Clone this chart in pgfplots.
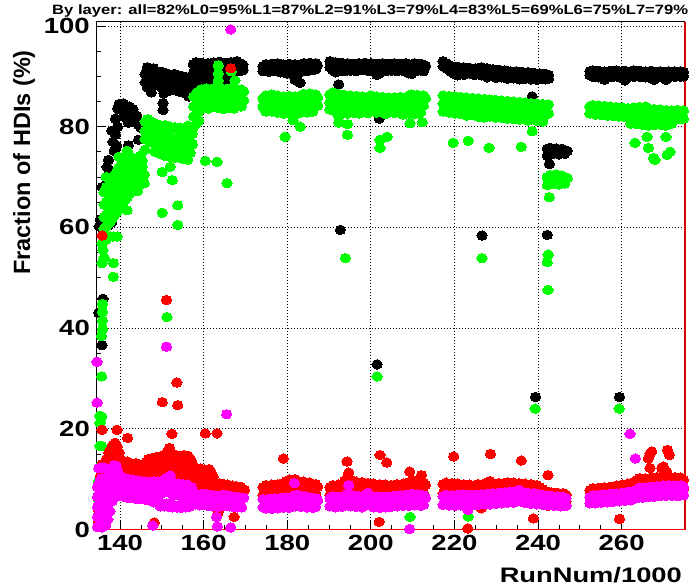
\documentclass[border=0pt]{standalone}
\usepackage{fontspec}
\setmainfont{Liberation Sans}
\usepackage{graphicx}
\usepackage{pgfplots}
\usepackage{pgfplotstable}
\pgfplotsset{compat=1.18}
\definecolor{rgreen}{RGB}{0,255,0}
\definecolor{rmag}{RGB}{255,0,255}
\definecolor{rred}{RGB}{255,0,0}

% ---------------- black series ----------------
\pgfplotstableread{
x a b c
134.9 43.0 nan nan
135.9 45.8 nan nan
135.7 36.6 nan nan
135.0 60.2 nan nan
135.3 61.6 nan nan
135.7 68.0 nan nan
136.0 60.9 nan nan
136.5 61.9 67.8 nan
136.9 61.0 69.6 72.0
137.2 73.4 60.4 nan
137.5 71.2 nan nan
138.0 79.2 61.0 nan
138.3 77.0 nan nan
138.6 75.2 nan nan
138.9 78.4 81.6 nan
139.2 76.2 nan nan
139.4 83.6 80.0 nan
139.8 84.5 nan nan
140.3 83.6 nan nan
140.8 84.6 82.0 nan
141.4 83.0 nan nan
142.0 80.8 76.3 nan
142.3 84.0 nan nan
142.7 82.6 nan nan
143.1 83.5 nan nan
143.6 81.0 nan nan
144.0 82.2 nan nan
144.4 80.4 77.4 nan
145.0 79.8 nan nan
146.0 90.4 88.8 nan
146.5 91.8 89.5 87.8
147.0 91.5 90.0 88.5
147.5 91.0 89.2 86.8
148.0 91.6 90.2 88.6
148.5 90.8 89.0 nan
149.0 91.0 89.6 88.2
149.5 90.4 88.7 nan
150.0 90.9 89.3 87.8
150.3 84.7 83.3 nan
150.5 90.2 88.5 86.6
151.0 90.6 89.0 87.5
151.5 90.0 88.3 nan
152.0 90.3 88.8 87.2
152.5 89.8 88.0 nan
153.0 90.5 89.0 87.6
153.5 89.6 88.2 nan
154.0 90.2 88.6 87.0
154.5 89.4 87.8 nan
155.0 90.0 88.4 86.8
155.5 89.2 87.5 nan
156.0 89.8 88.2 86.5
156.5 89.0 87.2 86.0
157.0 89.5 88.0 nan
157.5 92.4 90.6 89.0
158.2 92.8 90.9 89.4
158.9 92.3 90.4 88.8
159.6 92.7 90.8 89.6
160.3 92.2 90.5 89.1
161.0 92.6 91.0 nan
161.7 92.4 90.6 89.3
162.4 92.8 91.2 nan
163.1 92.5 90.8 nan
163.8 92.9 91.3 90.0
164.5 92.3 90.9 nan
165.2 92.7 91.0 89.2
165.9 92.4 90.6 88.9
166.6 92.8 91.2 nan
167.3 92.5 90.8 nan
168.0 93.0 91.4 nan
168.7 92.6 91.0 nan
169.4 92.3 91.2 nan
174.2 92.0 91.0 nan
174.9 92.4 91.2 nan
175.6 92.1 90.9 nan
176.3 92.5 91.4 nan
177.0 92.2 91.0 nan
177.7 92.6 91.3 nan
178.4 92.0 90.8 nan
179.1 92.4 91.1 nan
179.8 92.2 90.6 nan
180.5 92.5 91.0 nan
181.2 92.1 90.4 nan
181.9 92.4 89.3 nan
182.6 92.0 90.5 nan
183.1 88.7 nan nan
183.3 92.3 91.0 nan
184.0 92.6 91.3 nan
184.7 92.2 91.0 nan
185.4 92.7 91.5 nan
186.1 92.4 91.2 nan
186.8 92.6 91.4 nan
187.2 92.2 nan nan
190.2 93.0 91.8 nan
190.9 92.6 91.2 nan
191.6 92.8 90.8 nan
192.3 92.4 91.0 88.4
193.0 92.7 91.3 nan
193.7 92.3 91.0 nan
194.4 92.6 91.4 nan
195.1 92.2 91.1 nan
195.8 92.5 91.3 nan
196.5 92.1 91.0 nan
197.2 92.6 91.4 nan
197.9 92.3 91.2 nan
198.6 92.7 91.5 nan
199.3 92.4 91.1 nan
200.0 92.6 91.3 nan
200.7 92.2 90.9 nan
201.4 92.5 91.0 90.3
202.1 92.3 90.6 nan
202.8 92.6 91.2 nan
203.5 92.2 91.0 nan
204.2 92.5 91.3 nan
204.9 92.3 91.1 nan
205.6 92.6 91.4 nan
206.3 92.2 91.0 nan
207.0 92.5 91.2 nan
207.7 92.3 91.1 nan
208.4 92.6 91.4 nan
209.1 92.2 90.6 nan
209.8 92.4 90.5 nan
210.5 92.6 91.3 nan
211.2 92.3 91.1 nan
211.9 92.5 91.2 nan
212.6 92.3 91.0 nan
213.1 92.1 nan nan
192.7 59.5 nan nan
201.5 32.8 nan nan
202.0 81.6 nan nan
217.3 93.0 92.0 nan
218.0 92.6 91.6 nan
218.7 92.3 91.2 nan
219.4 92.0 90.8 nan
220.1 91.8 90.4 nan
220.8 91.9 90.2 nan
221.5 91.6 90.5 nan
222.2 91.8 90.3 nan
222.9 91.5 90.6 nan
223.6 91.7 90.8 nan
224.3 91.4 90.4 nan
225.0 91.6 90.3 nan
225.7 91.5 90.6 nan
226.4 91.8 90.2 nan
227.1 91.5 90.5 nan
227.8 91.6 89.8 nan
228.5 91.3 90.1 nan
229.2 91.4 90.4 nan
229.9 91.2 89.7 nan
230.6 91.3 90.1 nan
231.3 91.0 89.8 nan
232.0 91.2 90.0 nan
232.7 90.9 89.5 nan
233.4 91.0 89.8 nan
234.1 90.8 89.6 nan
234.8 91.0 89.9 nan
235.5 90.7 89.4 nan
236.2 90.9 89.8 nan
236.9 90.6 89.5 nan
237.6 90.8 89.7 nan
238.3 90.5 89.4 nan
239.0 90.7 89.6 nan
239.7 90.4 89.3 nan
240.4 90.6 89.5 nan
241.1 90.4 89.6 nan
241.8 90.5 89.4 nan
242.5 90.3 89.5 nan
226.6 58.4 nan nan
238.6 86.0 nan nan
239.4 26.3 nan nan
242.2 58.5 75.6 74.2
242.7 72.6 nan nan
242.9 75.8 74.4 nan
243.6 75.5 74.6 nan
244.3 75.7 nan nan
245.0 75.4 74.5 nan
245.7 75.6 nan nan
246.4 75.3 74.6 nan
247.0 75.2 nan nan
252.4 91.0 90.2 nan
253.1 91.2 89.9 nan
253.8 90.8 90.1 nan
254.5 91.1 89.8 nan
255.2 90.9 90.0 nan
255.9 91.0 89.3 nan
256.6 90.8 89.7 nan
257.3 91.1 90.0 nan
258.0 90.9 89.9 nan
258.7 91.2 90.1 nan
259.4 90.8 89.8 nan
260.1 91.0 89.9 nan
260.8 91.1 89.2 nan
261.5 90.8 89.8 nan
262.2 91.0 90.0 nan
262.9 91.2 89.9 nan
263.6 90.9 90.1 nan
264.3 91.1 89.9 nan
265.0 90.8 90.0 nan
265.7 91.0 89.8 nan
266.4 90.9 90.0 nan
267.1 91.1 89.6 nan
267.8 90.8 89.3 nan
268.5 90.9 89.7 nan
269.2 91.0 90.0 nan
269.9 90.8 89.8 nan
270.6 90.9 89.3 nan
271.3 91.0 89.9 nan
272.0 90.8 90.0 nan
272.7 91.0 89.9 nan
273.4 90.9 90.1 nan
274.1 91.0 89.9 nan
274.8 90.8 90.0 nan
268.0 80.4 nan nan
259.5 26.3 nan nan
}\tblack

% ---------------- green series ----------------
\pgfplotstableread{
x a b c d e
134.8 0.5 3.0 6.0 9.5 nan
135.2 12.5 16.6 21.2 22.6 nan
135.6 30.4 22.4 16.6 38.4 nan
135.8 39.8 41.5 43.2 44.8 7.0
135.7 56.8 52.9 nan nan nan
135.9 55.5 nan nan nan nan
136.2 54.0 59.8 62.0 64.5 67.0
136.6 57.5 nan nan nan nan
136.7 60.2 62.5 65.0 68.0 70.0
137.2 60.8 63.0 65.5 67.5 nan
137.6 58.2 nan nan nan nan
137.7 61.2 63.8 66.2 68.5 nan
138.2 61.8 64.2 66.8 69.4 nan
138.4 58.2 52.9 50.2 nan nan
138.7 62.4 65.0 67.6 70.2 nan
139.2 63.0 65.6 68.2 71.0 nan
139.3 58.2 nan nan nan nan
139.7 63.6 66.2 68.8 71.8 74.0
140.2 64.2 66.8 69.4 72.4 nan
140.7 64.8 67.4 70.0 73.0 nan
141.2 65.4 68.0 70.6 73.6 nan
141.7 66.0 68.6 71.2 75.2 63.4
142.2 66.6 69.2 72.0 nan nan
142.7 67.0 70.0 72.6 74.0 nan
143.2 67.6 70.4 73.0 nan nan
143.7 68.2 71.0 nan nan nan
144.2 67.2 70.2 73.5 nan nan
144.8 68.5 71.6 74.2 nan nan
145.3 69.4 72.0 73.2 nan nan
145.8 68.8 70.5 nan nan nan
146.0 81.0 79.2 77.5 75.4 nan
146.6 81.5 79.6 77.8 nan nan
147.2 81.2 79.0 77.0 nan nan
147.8 80.8 78.8 76.8 nan nan
148.4 80.6 78.6 76.5 75.0 nan
149.0 80.4 78.3 76.2 nan nan
149.6 80.2 78.0 76.0 74.6 nan
150.1 71.0 62.9 nan nan nan
150.2 80.0 77.8 75.8 nan nan
150.8 80.3 78.2 76.1 74.2 nan
151.2 42.2 nan nan nan nan
151.4 79.8 77.6 75.6 nan nan
152.0 80.0 77.9 75.9 74.0 72.0
152.5 69.4 nan nan nan nan
152.6 79.6 77.4 75.4 nan nan
153.2 79.9 77.7 75.6 73.8 nan
153.8 79.5 77.2 75.2 64.4 60.5
154.4 79.8 77.6 75.5 nan nan
155.0 79.4 77.0 74.8 73.6 nan
155.6 79.7 77.4 75.2 nan nan
156.2 80.2 78.0 75.8 73.4 nan
156.8 79.2 77.0 74.8 nan nan
157.3 78.6 76.5 nan nan nan
157.6 86.0 84.0 82.0 80.0 nan
158.2 86.6 84.5 82.5 80.5 nan
158.8 87.0 85.0 83.0 81.2 nan
159.4 87.4 85.4 83.5 nan nan
160.0 87.2 85.2 83.8 nan nan
160.4 73.2 nan nan nan nan
160.6 87.6 85.6 84.0 nan nan
161.2 87.0 85.0 83.6 nan nan
161.8 87.5 85.5 83.8 nan nan
162.4 87.2 85.2 nan nan nan
163.0 87.8 85.8 84.0 nan nan
163.2 73.0 nan nan nan nan
163.5 92.2 90.6 89.2 nan nan
163.6 87.3 85.3 83.7 nan nan
164.2 87.6 85.6 nan nan nan
164.8 87.1 85.0 83.5 nan nan
165.4 87.5 85.4 nan nan nan
165.6 68.8 nan nan nan nan
166.0 87.2 85.2 83.8 nan nan
166.6 87.7 85.6 91.0 nan nan
167.2 87.3 85.2 83.6 nan nan
167.5 89.2 nan nan nan nan
167.8 87.5 85.4 nan nan nan
168.4 87.1 85.0 nan nan nan
169.0 87.4 85.6 84.0 nan nan
169.6 87.0 85.2 nan nan nan
174.2 85.6 84.0 nan nan nan
174.9 86.2 84.4 83.0 nan nan
175.6 86.0 84.2 nan nan nan
176.3 86.4 84.6 83.0 nan nan
177.0 85.8 84.0 nan nan nan
177.7 86.2 84.4 82.8 nan nan
178.4 85.6 83.8 nan nan nan
179.1 86.0 84.2 82.6 nan nan
179.5 78.0 nan nan nan nan
179.8 85.5 83.6 nan nan nan
180.5 86.1 84.2 82.6 nan nan
181.2 85.7 83.8 nan nan nan
181.4 81.3 nan nan nan nan
181.9 86.0 84.0 82.4 nan nan
182.6 85.6 83.6 nan nan nan
183.1 80.0 nan nan nan nan
183.3 86.2 84.4 82.8 nan nan
184.0 86.5 84.6 nan nan nan
184.7 86.0 84.2 82.8 nan nan
185.4 86.6 84.8 nan nan nan
186.1 86.2 84.4 83.0 nan nan
186.8 86.4 84.6 nan nan nan
187.3 85.8 84.2 nan nan nan
190.2 86.4 84.8 83.4 nan nan
190.9 86.8 85.0 nan nan nan
191.6 86.2 84.5 83.0 nan nan
192.3 86.5 84.6 82.0 80.8 nan
193.0 86.0 84.2 82.8 nan nan
193.7 86.3 84.5 nan nan nan
193.9 53.9 nan nan nan nan
194.4 85.9 84.0 82.6 80.5 78.4
195.1 86.2 84.4 nan nan nan
195.8 85.8 84.0 82.8 nan nan
196.5 86.1 84.3 nan nan nan
197.2 85.7 83.9 82.6 nan nan
197.9 86.0 84.2 nan nan nan
198.6 85.6 83.8 nan nan nan
199.3 85.9 84.1 82.7 nan nan
200.0 86.2 84.3 nan nan nan
200.7 85.7 83.9 nan nan nan
201.4 86.0 84.2 82.8 nan nan
201.5 30.4 nan nan nan nan
202.1 85.6 83.8 nan nan nan
202.2 77.4 75.8 nan nan nan
202.8 85.9 84.0 nan nan nan
203.5 85.5 83.7 82.5 nan nan
203.9 78.0 nan nan nan nan
204.2 85.8 84.0 nan nan nan
204.9 85.4 83.6 nan nan nan
205.6 85.8 84.0 82.7 nan nan
206.3 85.5 83.7 nan nan nan
207.0 85.9 84.1 nan nan nan
207.7 85.4 83.6 82.4 nan nan
208.4 85.7 83.9 nan nan nan
209.1 86.2 84.2 82.6 nan nan
209.4 80.7 2.5 nan nan nan
209.8 86.4 84.4 nan nan nan
210.5 86.0 84.0 82.5 nan nan
211.2 86.3 84.3 nan nan nan
211.9 85.9 84.0 82.8 nan nan
212.3 80.9 nan nan nan nan
212.6 86.2 84.2 nan nan nan
213.1 85.6 nan nan nan nan
217.3 86.2 84.6 83.0 nan nan
218.0 85.9 84.3 nan nan nan
218.7 86.1 84.4 82.8 nan nan
219.4 85.8 84.0 nan nan nan
219.7 76.8 nan nan nan nan
220.1 86.0 84.2 82.6 nan nan
220.8 85.6 83.9 nan nan nan
221.5 85.9 84.1 82.5 nan nan
222.2 85.5 83.8 nan nan nan
222.9 85.8 84.0 82.2 nan nan
223.3 77.2 2.6 nan nan nan
223.6 85.4 83.6 nan nan nan
224.3 85.7 83.9 82.3 nan nan
225.0 85.3 83.6 nan nan nan
225.7 85.6 83.8 82.0 nan nan
226.4 85.2 83.4 nan nan nan
226.6 53.9 nan nan nan nan
227.1 85.5 83.7 81.8 nan nan
227.8 85.1 83.3 nan nan nan
228.3 75.8 nan nan nan nan
228.5 85.4 83.6 82.0 nan nan
229.2 85.0 83.2 nan nan nan
229.9 85.3 83.5 81.8 nan nan
230.6 84.9 83.1 nan nan nan
231.3 85.2 83.4 81.8 nan nan
232.0 84.8 83.0 nan nan nan
232.7 85.1 83.3 81.6 nan nan
233.4 84.7 82.9 nan nan nan
234.1 85.0 83.2 81.5 nan nan
234.8 84.6 82.8 nan nan nan
235.5 84.9 83.1 81.4 nan nan
236.0 76.0 nan nan nan nan
236.2 84.5 82.7 nan nan nan
236.9 84.8 83.0 nan nan nan
237.6 84.4 82.6 81.2 nan nan
238.3 84.7 82.9 nan nan nan
238.6 79.1 nan nan nan nan
239.0 84.3 82.5 nan nan nan
239.3 24.0 nan nan nan nan
239.7 84.6 82.8 81.2 nan nan
240.4 84.2 82.4 nan nan nan
241.1 84.5 82.7 81.0 nan nan
241.8 84.1 82.3 nan nan nan
242.2 70.0 68.4 53.1 nan nan
242.4 47.6 54.6 nan nan nan
242.5 84.4 82.6 nan nan nan
242.7 66.0 nan nan nan nan
242.9 70.4 68.8 nan nan nan
243.6 70.2 68.6 nan nan nan
244.3 70.5 69.0 nan nan nan
245.0 70.1 68.5 nan nan nan
245.7 70.3 68.8 nan nan nan
246.4 70.0 68.7 nan nan nan
247.0 69.8 nan nan nan nan
252.4 84.0 82.6 nan nan nan
253.1 84.3 82.8 nan nan nan
253.8 83.9 82.4 nan nan nan
254.5 84.2 82.7 nan nan nan
255.2 83.8 82.3 nan nan nan
255.9 84.1 82.6 nan nan nan
256.6 83.7 82.2 nan nan nan
257.3 84.0 82.5 nan nan nan
258.0 83.6 82.1 nan nan nan
258.7 83.9 82.4 nan nan nan
259.4 83.5 82.0 24.0 nan nan
260.1 83.8 82.3 nan nan nan
260.8 83.4 81.9 nan nan nan
261.5 83.7 82.2 nan nan nan
262.2 83.4 81.8 80.6 nan nan
262.9 83.8 82.2 nan nan nan
263.2 76.8 nan nan nan nan
263.6 83.5 81.9 80.5 nan nan
264.3 83.9 82.3 nan nan nan
265.0 83.6 82.0 80.4 nan nan
265.7 84.0 82.4 nan nan nan
266.1 78.0 nan nan nan nan
266.4 83.6 82.0 80.2 75.8 nan
267.1 83.3 81.8 nan nan nan
267.6 73.8 nan nan nan nan
267.8 83.5 81.9 80.3 nan nan
268.0 73.4 nan nan nan nan
268.5 83.1 81.6 nan nan nan
269.2 83.4 81.8 80.4 nan nan
269.9 83.0 81.5 nan nan nan
270.6 83.3 81.8 80.2 78.0 nan
270.9 74.4 nan nan nan nan
271.3 83.0 81.5 nan nan nan
271.6 75.0 nan nan nan nan
272.0 83.2 81.7 80.6 nan nan
272.7 82.9 81.4 nan nan nan
273.4 83.3 81.8 nan nan nan
274.1 83.0 81.5 nan nan nan
274.8 83.2 81.6 nan nan nan
}\tgreen

% ---------------- red series ----------------
\pgfplotstableread{
x a b c
134.8 1.5 4.0 nan
135.3 7.5 10.5 nan
135.7 58.4 19.8 13.0
136.2 9.0 5.0 nan
136.8 11.5 14.0 nan
137.3 15.2 12.8 10.5
137.8 16.0 13.5 11.0
138.3 16.8 14.2 11.6
138.8 17.2 14.6 12.0
139.3 16.5 14.0 19.8
139.8 15.2 13.0 10.8
140.3 13.8 11.8 nan
140.8 13.2 11.2 nan
141.3 12.8 10.8 nan
141.8 13.5 11.4 18.2
142.3 12.6 10.6 nan
142.8 13.0 11.0 nan
143.3 12.4 10.4 nan
143.8 13.2 11.2 nan
144.3 12.8 10.8 nan
144.8 12.2 10.2 nan
145.3 12.9 10.9 nan
145.8 12.4 10.5 nan
146.3 13.4 11.2 nan
146.8 14.0 11.8 9.8
147.3 13.6 11.5 nan
147.8 14.2 12.0 9.9
148.2 1.4 nan nan
148.3 13.5 11.4 nan
148.8 14.4 12.2 10.0
149.3 13.8 11.6 nan
149.8 14.6 12.4 10.2
150.1 25.3 nan nan
150.3 14.0 11.8 nan
150.8 14.8 12.6 10.4
151.1 45.6 nan nan
151.3 15.4 13.0 10.8
151.8 16.2 13.6 11.2
152.3 15.0 12.8 10.6
152.4 19.0 nan nan
152.8 14.4 12.2 nan
153.3 14.8 12.6 10.4
153.6 29.2 nan nan
153.8 14.2 12.0 24.7
154.3 14.6 12.4 10.2
154.8 14.0 11.8 nan
155.3 14.8 12.5 10.3
155.8 14.3 12.1 nan
156.3 14.6 12.4 10.2
156.8 14.1 11.9 nan
157.3 13.0 10.8 nan
157.8 11.8 9.8 8.0
158.3 12.0 10.0 nan
158.8 11.6 9.6 7.8
159.3 12.1 10.1 nan
159.8 11.7 9.7 7.9
160.3 11.9 9.9 nan
160.4 19.1 nan nan
160.8 11.5 9.5 7.7
161.3 12.0 10.0 nan
161.8 11.4 9.4 nan
162.3 10.5 8.6 nan
162.8 9.0 7.4 nan
163.2 19.1 nan nan
163.3 8.6 7.0 nan
163.5 3.5 nan nan
163.8 9.2 7.6 nan
164.3 8.8 7.2 nan
164.8 9.0 7.3 nan
165.3 8.5 7.0 nan
165.8 8.9 7.3 nan
166.3 8.4 6.9 nan
166.5 91.6 nan nan
166.8 8.7 7.1 nan
167.3 8.3 6.8 2.5
167.8 8.6 7.0 nan
168.3 8.2 6.7 nan
168.8 8.5 7.0 nan
169.3 8.1 6.7 nan
169.8 7.8 nan nan
174.2 8.4 6.8 nan
174.9 8.8 7.1 nan
175.6 8.5 6.9 nan
176.3 8.9 7.2 nan
177.0 8.6 6.9 nan
177.7 9.0 7.3 nan
178.4 8.7 7.0 nan
179.1 9.2 7.4 14.1
179.8 9.6 7.6 nan
180.5 9.9 7.8 nan
181.2 9.5 7.6 nan
181.9 10.0 7.9 nan
182.6 9.6 7.6 nan
183.3 9.2 7.3 nan
184.0 9.5 7.5 nan
184.7 9.0 7.2 nan
185.4 9.3 7.4 nan
186.1 8.8 7.1 nan
186.8 9.0 7.2 nan
187.3 8.5 nan nan
190.2 8.4 6.8 nan
190.9 8.8 7.0 nan
191.6 8.5 6.9 nan
192.3 8.9 7.2 nan
193.0 8.6 7.0 nan
193.7 9.6 7.4 nan
194.3 13.5 nan nan
194.4 10.4 7.8 nan
194.7 11.3 nan nan
195.1 9.8 7.5 nan
195.8 9.2 7.2 nan
196.5 9.5 7.4 nan
197.2 9.0 7.1 nan
197.9 9.4 7.3 nan
198.6 8.9 7.0 nan
199.3 9.2 7.2 nan
200.0 8.8 7.0 nan
200.7 9.1 7.2 nan
201.4 8.7 6.9 nan
202.0 1.5 nan nan
202.1 9.0 7.1 nan
202.2 14.8 nan nan
202.8 8.6 6.9 nan
203.5 8.9 7.1 nan
203.8 13.3 nan nan
204.2 8.5 6.8 nan
204.9 8.8 7.0 nan
205.6 8.6 6.8 nan
206.3 9.0 7.1 nan
207.0 8.7 6.9 nan
207.7 9.1 7.2 nan
208.4 8.8 7.0 nan
209.1 9.4 7.3 nan
209.3 11.5 nan nan
209.8 9.8 7.5 nan
210.5 9.2 7.2 nan
211.2 9.6 7.4 nan
211.9 9.0 7.1 nan
212.1 10.8 nan nan
212.6 9.3 7.3 nan
213.1 8.8 nan nan
217.3 9.0 7.2 nan
218.0 9.3 7.4 nan
218.7 8.9 7.1 nan
219.4 9.2 7.3 nan
219.8 14.5 nan nan
220.1 8.8 7.0 nan
220.8 9.1 7.2 nan
221.5 8.7 6.9 nan
222.2 9.0 7.1 nan
222.9 8.6 6.8 nan
223.2 0.2 nan nan
223.6 8.9 7.0 nan
224.3 8.5 6.8 nan
225.0 8.8 7.0 nan
225.7 9.0 7.1 nan
226.4 8.7 6.9 4.2
227.1 9.1 7.2 nan
227.8 9.3 7.3 nan
228.5 9.6 7.5 nan
228.6 15.0 nan nan
229.2 9.2 7.2 nan
229.9 8.9 7.0 nan
230.6 9.2 7.2 nan
231.3 8.8 7.0 nan
232.0 9.1 7.2 nan
232.7 9.4 7.4 nan
233.4 9.0 7.1 nan
234.1 9.3 7.3 nan
234.8 8.9 7.0 nan
235.5 9.2 7.2 nan
236.0 13.7 nan nan
236.2 8.8 6.9 nan
236.9 9.1 7.1 nan
237.6 8.7 6.8 nan
238.3 9.0 7.0 nan
238.9 2.2 nan nan
239.0 8.6 6.8 nan
239.7 8.8 6.9 nan
240.4 8.4 6.6 nan
241.1 8.0 6.4 nan
241.8 7.6 6.2 nan
242.4 10.8 4.7 nan
242.5 7.2 5.9 nan
243.2 7.4 6.0 nan
243.9 7.1 5.8 nan
244.6 7.3 6.0 nan
245.3 7.0 5.7 nan
246.0 7.2 5.9 nan
246.7 6.9 5.6 nan
252.4 7.8 6.4 nan
253.1 8.2 6.6 nan
253.8 7.9 6.4 nan
254.5 8.3 6.7 nan
255.2 8.0 6.5 nan
255.9 8.4 6.8 nan
256.6 8.1 6.6 nan
257.3 8.5 6.9 nan
258.0 8.2 6.7 nan
258.7 8.7 7.0 nan
259.4 8.4 6.8 nan
259.5 2.1 nan nan
260.1 8.9 7.1 nan
260.8 8.6 6.9 nan
261.5 9.1 7.3 nan
262.2 8.8 7.1 nan
262.9 9.4 7.5 nan
263.6 9.8 7.8 nan
264.3 10.2 8.0 nan
265.0 9.8 7.8 nan
265.7 10.1 8.0 nan
266.4 9.7 7.7 14.1
266.8 12.2 15.1 nan
267.1 10.3 8.1 nan
267.2 15.5 nan nan
267.8 9.9 7.9 nan
268.5 10.4 8.2 nan
269.2 10.0 8.0 nan
269.6 12.2 nan nan
269.9 10.6 8.4 nan
270.0 12.5 nan nan
270.6 10.2 8.1 nan
270.8 11.5 nan nan
271.0 15.8 nan nan
271.3 10.5 8.3 nan
271.4 14.8 nan nan
272.0 10.1 8.0 nan
272.7 10.4 8.2 nan
273.4 10.0 8.0 nan
274.1 10.3 8.2 nan
274.8 9.9 8.0 nan
}\tred

% ---------------- magenta series ----------------
\pgfplotstableread{
x a b c d e
134.5 33.3 25.2 nan nan nan
134.9 12.2 nan nan nan nan
135.8 12.3 nan nan nan nan
136.5 12.2 nan nan nan nan
134.6 0.5 2.5 4.5 6.5 8.5
135.1 1.0 3.0 5.2 7.2 9.5
135.6 0.4 2.2 4.0 6.0 8.0
135.6 10.2 nan nan nan nan
136.1 1.2 3.4 5.6 7.8 nan
136.6 0.8 2.8 5.0 7.2 9.4
137.1 2.0 4.2 6.4 8.6 10.6
137.6 3.6 5.8 8.0 10.2 nan
138.1 5.6 7.8 10.0 11.6 nan
138.6 7.0 9.2 11.4 12.8 nan
139.1 7.5 9.6 11.8 12.6 nan
139.6 7.4 9.4 11.2 nan nan
140.1 10.4 8.4 6.6 nan nan
140.6 9.8 7.9 nan nan nan
141.1 10.2 8.2 6.4 nan nan
141.6 9.6 7.6 nan nan nan
142.1 10.0 8.0 6.2 nan nan
142.6 9.4 7.5 nan nan nan
143.1 9.9 7.9 6.3 nan nan
143.6 9.3 7.4 nan nan nan
144.1 9.7 7.7 6.0 nan nan
144.6 9.2 7.3 nan nan nan
145.1 9.6 7.6 6.1 nan nan
145.6 9.1 7.2 nan nan nan
146.1 9.5 7.5 5.9 nan nan
146.6 9.0 7.1 nan nan nan
147.1 9.4 7.4 5.8 nan nan
147.6 9.2 7.2 nan nan nan
147.8 0.8 nan nan nan nan
148.1 9.6 7.5 5.4 nan nan
148.6 9.1 7.1 nan nan nan
149.1 9.5 7.4 5.2 nan nan
149.6 9.0 7.0 4.6 nan nan
150.1 9.3 7.3 5.0 nan nan
150.6 9.8 7.6 4.6 nan nan
151.1 10.2 7.9 5.2 36.3 nan
151.6 9.6 7.4 4.5 nan nan
152.0 10.7 nan nan nan nan
152.1 9.2 7.2 5.0 nan nan
152.6 8.9 6.9 4.4 nan nan
153.1 9.2 7.1 4.8 nan nan
153.6 8.8 6.8 4.4 nan nan
154.1 9.1 7.0 4.8 nan nan
154.6 8.7 6.7 4.3 nan nan
155.1 9.0 6.9 4.7 nan nan
155.6 8.6 6.6 4.4 nan nan
156.1 8.9 6.8 4.8 nan nan
156.6 8.5 6.5 4.5 nan nan
157.1 8.4 6.4 5.0 nan nan
157.6 7.2 5.4 nan nan nan
158.1 6.8 5.0 nan nan nan
158.6 7.0 5.2 nan nan nan
159.1 6.6 4.8 nan nan nan
159.6 7.1 5.3 nan nan nan
160.1 6.7 4.9 nan nan nan
160.6 7.0 5.1 nan nan nan
161.1 6.5 4.7 nan nan nan
161.6 6.9 5.0 nan nan nan
162.1 6.4 4.6 nan nan nan
162.6 6.8 4.9 nan nan nan
163.1 6.3 4.5 2.5 nan nan
163.3 0.6 nan nan nan nan
163.6 6.7 4.8 nan nan nan
164.1 6.4 4.6 nan nan nan
164.6 6.9 5.0 nan nan nan
165.1 6.5 4.7 nan nan nan
165.5 22.9 nan nan nan nan
165.6 6.8 4.9 nan nan nan
166.1 6.3 4.6 nan nan nan
166.5 0.4 99.3 nan nan nan
166.6 6.6 4.8 nan nan nan
167.1 6.2 4.5 nan nan nan
167.6 6.5 4.7 nan nan nan
168.1 6.1 4.4 nan nan nan
168.6 6.4 4.6 nan nan nan
169.1 6.0 4.4 nan nan nan
169.6 6.3 nan nan nan nan
174.2 6.0 4.4 nan nan nan
174.9 5.6 4.2 nan nan nan
175.6 6.1 4.5 nan nan nan
176.3 5.7 4.1 nan nan nan
177.0 6.2 4.5 nan nan nan
177.7 5.8 4.2 nan nan nan
178.4 6.3 4.6 nan nan nan
179.1 5.9 4.3 nan nan nan
179.8 6.4 4.7 nan nan nan
180.5 6.0 4.3 nan nan nan
181.2 6.5 4.8 nan nan nan
181.7 9.2 nan nan nan nan
181.9 6.8 4.6 nan nan nan
182.6 6.9 4.9 nan nan nan
183.3 6.3 4.5 nan nan nan
184.0 6.6 4.8 nan nan nan
184.7 6.1 4.4 nan nan nan
185.4 6.4 4.7 nan nan nan
186.1 5.9 4.3 nan nan nan
186.8 6.2 4.5 nan nan nan
187.3 5.8 nan nan nan nan
190.2 6.2 4.6 nan nan nan
190.9 6.6 4.9 nan nan nan
191.6 6.0 4.4 nan nan nan
192.3 6.5 4.8 nan nan nan
193.0 6.1 4.5 nan nan nan
193.7 6.7 4.9 nan nan nan
194.4 7.0 5.0 nan nan nan
194.7 8.8 nan nan nan nan
195.1 6.4 4.6 nan nan nan
195.8 6.8 4.9 nan nan nan
196.5 6.2 4.5 nan nan nan
197.2 6.6 4.8 nan nan nan
197.9 6.1 4.4 nan nan nan
198.6 6.9 4.9 nan nan nan
199.3 7.3 5.2 nan nan nan
200.0 6.5 4.7 nan nan nan
200.7 6.2 4.4 nan nan nan
201.4 6.6 4.8 nan nan nan
202.1 6.0 4.3 nan nan nan
202.8 6.5 4.7 nan nan nan
203.5 6.1 4.4 nan nan nan
204.2 6.6 4.8 nan nan nan
204.9 6.2 4.5 nan nan nan
205.6 6.7 4.9 nan nan nan
206.3 6.3 4.6 nan nan nan
207.0 6.8 5.0 nan nan nan
207.7 6.4 4.7 nan nan nan
208.4 6.9 5.1 nan nan nan
209.1 6.5 4.7 nan nan nan
209.3 0.1 nan nan nan nan
209.8 7.1 5.2 nan nan nan
210.5 6.6 4.8 nan nan nan
211.2 7.0 5.1 nan nan nan
211.9 6.5 4.7 nan nan nan
212.6 6.8 4.9 nan nan nan
213.1 6.3 nan nan nan nan
217.3 6.6 4.9 nan nan nan
218.0 6.9 5.1 nan nan nan
218.7 6.5 4.8 nan nan nan
219.4 6.8 5.0 nan nan nan
220.1 6.4 4.7 nan nan nan
220.8 6.9 5.1 nan nan nan
221.5 6.5 4.8 nan nan nan
222.2 7.0 5.2 nan nan nan
222.9 6.6 4.9 nan nan nan
223.2 3.9 nan nan nan nan
223.6 6.9 5.0 nan nan nan
224.3 6.5 4.8 nan nan nan
225.0 6.9 5.1 nan nan nan
225.7 6.6 4.9 nan nan nan
226.4 7.0 5.2 nan nan nan
227.1 6.7 5.0 nan nan nan
227.8 7.1 5.3 nan nan nan
228.5 6.8 5.0 nan nan nan
229.2 7.2 5.4 nan nan nan
229.9 6.9 5.1 nan nan nan
230.6 7.3 5.4 nan nan nan
231.3 7.0 5.2 nan nan nan
232.0 7.4 5.5 nan nan nan
232.7 7.1 5.3 nan nan nan
233.4 7.5 5.6 nan nan nan
234.1 7.2 5.3 nan nan nan
234.8 7.6 5.5 nan nan nan
235.5 7.9 5.7 nan nan nan
236.2 7.4 5.5 nan nan nan
236.9 7.1 5.3 nan nan nan
237.6 7.3 5.4 nan nan nan
238.3 6.9 5.1 nan nan nan
239.0 7.2 5.3 nan nan nan
239.7 6.8 5.0 nan nan nan
240.4 7.0 5.2 nan nan nan
241.1 6.6 4.9 nan nan nan
241.8 6.8 5.0 nan nan nan
242.5 6.4 4.8 nan nan nan
243.2 6.7 5.0 nan nan nan
243.9 6.3 4.7 nan nan nan
244.6 6.6 4.9 nan nan nan
245.3 6.2 4.6 nan nan nan
246.0 6.5 4.8 nan nan nan
246.7 6.2 4.7 nan nan nan
252.4 6.4 5.2 nan nan nan
253.1 6.8 5.4 nan nan nan
253.8 6.5 5.2 nan nan nan
254.5 6.9 5.5 nan nan nan
255.2 6.6 5.3 nan nan nan
255.9 7.0 5.6 nan nan nan
256.6 6.7 5.4 nan nan nan
257.3 7.1 5.7 nan nan nan
258.0 6.8 5.5 nan nan nan
258.7 7.2 5.8 nan nan nan
259.4 6.9 5.6 nan nan nan
260.1 7.3 5.9 nan nan nan
260.8 7.0 5.7 nan nan nan
261.5 7.5 6.0 nan nan nan
262.0 19.0 nan nan nan nan
262.2 7.2 5.8 nan nan nan
262.9 7.7 6.1 nan nan nan
263.3 14.1 nan nan nan nan
263.6 7.9 6.2 nan nan nan
264.3 8.3 6.5 nan nan nan
265.0 7.9 6.3 nan nan nan
265.7 8.4 6.6 nan nan nan
266.4 8.0 6.4 nan nan nan
267.1 8.5 6.7 nan nan nan
267.8 8.1 6.5 nan nan nan
268.5 8.6 6.8 nan nan nan
269.2 8.2 6.6 nan nan nan
269.9 8.7 6.9 nan nan nan
270.6 8.3 6.7 nan nan nan
271.3 8.8 7.0 nan nan nan
272.0 8.4 6.7 nan nan nan
272.7 8.7 6.9 nan nan nan
273.4 8.3 6.6 nan nan nan
274.1 8.8 7.0 nan nan nan
274.8 8.5 6.8 nan nan nan
}\tmag

\pgfplotsset{
  dotstyle/.style={only marks, mark=*, mark size=4.7pt, color=#1,
    mark options={line width=0pt, xscale=1.1}},
}

\begin{document}
\begin{tikzpicture}
\begin{axis}[
  scale only axis, width=589pt, height=507.8pt,
  xmin=134.25, xmax=275.16, ymin=0, ymax=100.85,
  axis line style={draw=none},
  clip=false,
  xtick={140,160,...,260}, ytick={0,20,...,100},
  minor x tick num=3, minor y tick num=3,
  tick pos=left, tick align=inside,
  major tick length=10pt, minor tick length=5pt,
  tick style={black, line width=0.8pt},
  grid=major,
  major grid style={black, line width=0.7pt, dash pattern=on 1pt off 2pt},
  xticklabel={\scalebox{1.25}[1]{\pgfmathprintnumber[assume math mode=true]{\tick}}},
  yticklabel={\scalebox{1.25}[1]{\pgfmathprintnumber[assume math mode=true]{\tick}}},
  ticklabel style={font=\fontsize{22}{22}\selectfont\bfseries, inner sep=0pt},
  xticklabel style={yshift=-5pt},
  yticklabel style={xshift=-6pt},
]
\foreach \c in {a,b,c} {\addplot[dotstyle=black] table[x=x,y=\c]{\tblack};}
\foreach \c in {a,b,c,d,e} {\addplot[dotstyle=rgreen] table[x=x,y=\c]{\tgreen};}
\foreach \c in {a,b,c} {\addplot[dotstyle=rred] table[x=x,y=\c]{\tred};}
\foreach \c in {a,b,c,d,e} {\addplot[dotstyle=rmag] table[x=x,y=\c]{\tmag};}
\draw[black, line width=0.8pt] (rel axis cs:0,0) -- (rel axis cs:0,1) -- (rel axis cs:1,1);
\draw[red!85!black, line width=1.8pt] (rel axis cs:1,1) -- (rel axis cs:1,0);
\draw[red, line width=1.2pt] (rel axis cs:0,0) -- (rel axis cs:1,0);
\end{axis}
\coordinate (O) at (current axis.south west);
\node[anchor=base west, inner sep=0pt] at ([shift={(-44pt,515pt)}]O)
  {\resizebox{636pt}{\height}{\fontsize{13.5}{13.5}\selectfont\bfseries By layer: all=82\%L0=95\%L1=87\%L2=91\%L3=79\%L4=83\%L5=69\%L6=75\%L7=79\%}};
\node[rotate=90, anchor=east, inner sep=0pt] at ([shift={(-72pt,479.5pt)}]O)
  {\fontsize{23.5}{23.5}\selectfont\bfseries Fraction of HDIs (\%)};
\node[anchor=north east, inner sep=0pt] at ([shift={(586pt,-37.5pt)}]O)
  {\scalebox{1.3}[1]{\fontsize{21}{21}\selectfont\bfseries RunNum/1000}};
\pgfresetboundingbox
\path ([shift={(-96pt,-57.5pt)}]O) rectangle ([shift={(594pt,529.5pt)}]O);
\end{tikzpicture}
\end{document}
